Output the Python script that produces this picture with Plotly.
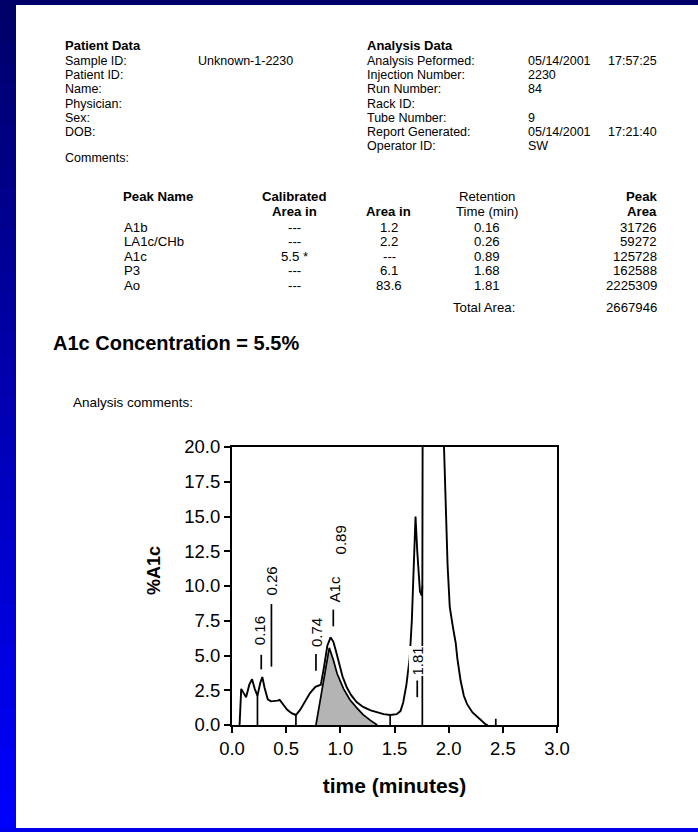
import plotly.graph_objects as go

# ---------------- data ----------------
patient_labels = ["Sample ID:", "Patient ID:", "Name:", "Physician:", "Sex:", "DOB:"]
patient_values = ["Unknown-1-2230", "", "", "", "", ""]
analysis_labels = ["Analysis Peformed:", "Injection Number:", "Run Number:", "Rack ID:",
                   "Tube Number:", "Report Generated:", "Operator ID:"]
analysis_values = ["05/14/2001  17:57:25", "2230", "84", "", "9", "05/14/2001  17:21:40", "SW"]

peak_names = ["A1b", "LA1c/CHb", "A1c", "P3", "Ao"]
calibrated_area = ["---", "---", "5.5 *", "---", "---"]
area_pct = ["1.2", "2.2", "---", "6.1", "83.6"]
retention_time = ["0.16", "0.26", "0.89", "1.68", "1.81"]
peak_area = ["31726", "59272", "125728", "162588", "2225309"]
total_area = "2667946"

# chromatogram (time in minutes, %A1c signal)
time_main = [0.07, 0.085, 0.10, 0.13, 0.16, 0.185, 0.21, 0.235, 0.26, 0.28, 0.30, 0.33,
             0.36, 0.395, 0.42, 0.44, 0.47, 0.51, 0.55, 0.59, 0.63, 0.67, 0.72, 0.77,
             0.82, 0.85, 0.88, 0.91, 0.935, 0.96, 0.99, 1.02, 1.06, 1.10, 1.15, 1.21,
             1.28, 1.34, 1.40, 1.46, 1.52, 1.555, 1.58, 1.61, 1.64, 1.66, 1.68, 1.694,
             1.71, 1.735, 1.752, 1.757, 1.762, 1.80, 1.87, 1.93, 1.957, 1.99, 2.01,
             2.04, 2.065, 2.08, 2.11, 2.14, 2.17, 2.22, 2.27, 2.31, 2.34, 2.36]
signal_main = [0.0, 2.6, 2.4, 2.0, 2.9, 3.3, 2.6, 2.1, 3.0, 3.45, 2.7, 1.85,
               1.7, 1.7, 1.75, 1.8, 1.5, 1.1, 0.85, 0.72, 1.1, 1.6, 2.3, 2.75,
               2.9, 4.2, 5.7, 6.3, 6.0, 5.3, 4.3, 3.5, 2.7, 2.15, 1.65, 1.3,
               1.05, 0.9, 0.78, 0.72, 0.78, 1.0, 1.6, 2.9, 4.8, 7.5, 12.5, 15.0,
               12.5, 9.6, 9.3, 10.0, 30.0, 60.0, 80.0, 40.0, 20.0, 11.5, 8.5,
               7.0, 5.9, 4.8, 3.2, 2.1, 1.5, 0.9, 0.55, 0.25, 0.05, 0.0]

# A1c peak (shaded integration)
time_a1c = [0.775, 0.898, 0.935, 0.97, 1.03, 1.09, 1.15, 1.21, 1.275, 1.31, 1.34]
signal_a1c = [0.0, 5.55, 4.7, 3.7, 2.6, 1.8, 1.25, 0.75, 0.35, 0.15, 0.0]

# baseline drop lines (time, height)
drop_time = [0.235, 0.59, 1.46, 1.757, 2.435]
drop_height = [2.1, 0.72, 0.72, 10.0, 0.45]

# peak label ticks (time, from, to) and label texts (text, time, centre height)
tick_time = [0.270, 0.364, 0.775, 0.935, 1.71]
tick_from = [4.0, 4.2, 3.9, 7.1, 2.0]
tick_to = [5.05, 8.7, 5.1, 8.3, 3.2]
label_text = ["0.16", "0.26", "0.74", "A1c", "0.89", "1.81"]
label_time = [0.256, 0.364, 0.780, 0.950, 1.000, 1.712]
label_y = [6.8, 10.35, 6.65, 9.75, 13.3, 4.6]

x_ticks = [0.0, 0.5, 1.0, 1.5, 2.0, 2.5, 3.0]
y_ticks = [0.0, 2.5, 5.0, 7.5, 10.0, 12.5, 15.0, 17.5, 20.0]

# ---------------- layout geometry (pixels) ----------------
W, H = 698, 832
L, R, T, B = 232, 557, 447, 725
FONT = "Liberation Sans"


def px(xp):
    return (xp - L) / (R - L)


def py(yp):
    return (B - yp) / (B - T)


fig = go.Figure()

fig.add_trace(go.Scatter(x=time_a1c, y=signal_a1c, mode="lines", fill="tozeroy",
                         fillcolor="#b4b4b4", line=dict(color="black", width=1.7),
                         hoverinfo="skip"))
fig.add_trace(go.Scatter(x=time_main, y=signal_main, mode="lines",
                         line=dict(color="black", width=1.9), hoverinfo="skip"))

dx, dy = [], []
for t, h in zip(drop_time, drop_height):
    dx += [t, t, None]
    dy += [0, h, None]
fig.add_trace(go.Scatter(x=dx, y=dy, mode="lines", line=dict(color="black", width=1.7),
                         hoverinfo="skip"))

tx, ty = [], []
for t, a, b in zip(tick_time, tick_from, tick_to):
    tx += [t, t, None]
    ty += [a, b, None]
fig.add_trace(go.Scatter(x=tx, y=ty, mode="lines", line=dict(color="black", width=1.7),
                         hoverinfo="skip"))

ann = []
for txt_, t, yv in zip(label_text, label_time, label_y):
    ann.append(dict(x=t, y=yv, xref="x", yref="y", text=txt_, textangle=-90,
                    showarrow=False, font=dict(family=FONT, size=15, color="black"),
                    bgcolor="white" if txt_ == "1.81" else None, borderpad=0))


def txt(x, y, s, size=12.5, bold=False, anchor="left", angle=0):
    ann.append(dict(x=px(x), y=py(y), xref="paper", yref="paper",
                    text=("<b>%s</b>" % s) if bold else s, showarrow=False,
                    xanchor=anchor, yanchor="middle", borderpad=0, textangle=angle,
                    font=dict(family=FONT, size=size, color="black")))


# header
row_y = [61, 75.2, 89.4, 103.6, 117.8, 132, 146.2]
txt(64, 45, "Patient Data", bold=True, size=13)
for i, (lab, val) in enumerate(zip(patient_labels, patient_values)):
    txt(64, row_y[i], lab)
    if val:
        txt(197, row_y[i], val)
txt(366, 45, "Analysis Data", bold=True, size=13)
for i, (lab, val) in enumerate(zip(analysis_labels, analysis_values)):
    txt(366, row_y[i], lab)
    if val:
        parts = val.split("  ")
        txt(527, row_y[i], parts[0])
        if len(parts) > 1:
            txt(607, row_y[i], parts[1])
txt(64, 158, "Comments:")

# table
TS = 13.2
txt(122, 196, "Peak Name", bold=True, size=TS)
txt(294, 196, "Calibrated", bold=True, size=TS, anchor="center")
txt(294, 211, "Area in", bold=True, size=TS, anchor="center")
txt(388, 211, "Area in", bold=True, size=TS, anchor="center")
txt(487, 196, "Retention", size=TS, anchor="center")
txt(487, 211, "Time (min)", size=TS, anchor="center")
txt(658, 196, "Peak", bold=True, size=TS, anchor="right")
txt(658, 211, "Area", bold=True, size=TS, anchor="right")
tab_y = [227, 241.5, 256, 270.5, 285]
for i in range(len(peak_names)):
    txt(123, tab_y[i], peak_names[i], size=TS)
    txt(294, tab_y[i], calibrated_area[i], size=TS, anchor="center")
    txt(389, tab_y[i], area_pct[i], size=TS, anchor="center")
    txt(487, tab_y[i], retention_time[i], size=TS, anchor="center")
    txt(658, tab_y[i], peak_area[i], size=TS, anchor="right")
txt(484, 307, "Total Area:", size=TS, anchor="center")
txt(658, 307, total_area, size=TS, anchor="right")

txt(52, 343, "A1c Concentration = 5.5%", size=20, bold=True)
txt(72, 402, "Analysis comments:", size=13.5)

# y-axis title
txt(154, 571, "%A1c", size=18, bold=True, anchor="center", angle=-90)

# blue slide border (gradient on left)
shapes = []
nb = 40
for k in range(nb):
    c = int(105 + (255 - 105) * k / (nb - 1))
    y0 = H * k / nb
    y1 = H * (k + 1) / nb + 1
    shapes.append(dict(type="rect", xref="paper", yref="paper", x0=px(0), x1=px(16),
                       y0=py(y0), y1=py(y1), line=dict(width=0),
                       fillcolor="rgb(0,0,%d)" % c))
shapes.append(dict(type="rect", xref="paper", yref="paper", x0=px(0), x1=px(W),
                   y0=py(0), y1=py(5), line=dict(width=0), fillcolor="rgb(0,0,105)"))
shapes.append(dict(type="rect", xref="paper", yref="paper", x0=px(0), x1=px(W),
                   y0=py(828), y1=py(H), line=dict(width=0), fillcolor="rgb(0,0,235)"))

axis_common = dict(showline=True, mirror=True, linecolor="black", linewidth=2,
                   ticks="outside", ticklen=6, tickwidth=2, tickcolor="black",
                   showgrid=False, zeroline=False, tickformat=".1f",
                   tickfont=dict(family=FONT, size=18.5, color="black"))

fig.update_layout(
    width=W, height=H,
    margin=dict(l=L, r=W - R, t=T, b=H - B, pad=0),
    paper_bgcolor="white", plot_bgcolor="white",
    showlegend=False,
    xaxis=dict(range=[0, 3], tickvals=x_ticks, **axis_common,
               title=dict(text="<b>time (minutes)</b>", standoff=20,
                          font=dict(family=FONT, size=21, color="black"))),
    yaxis=dict(range=[0, 20], tickvals=y_ticks, **axis_common),
    annotations=ann,
    shapes=shapes,
)

fig.write_html("out.html", config={"displayModeBar": False},
               post_script="document.body.style.margin='0px';document.body.style.overflow='hidden';")
